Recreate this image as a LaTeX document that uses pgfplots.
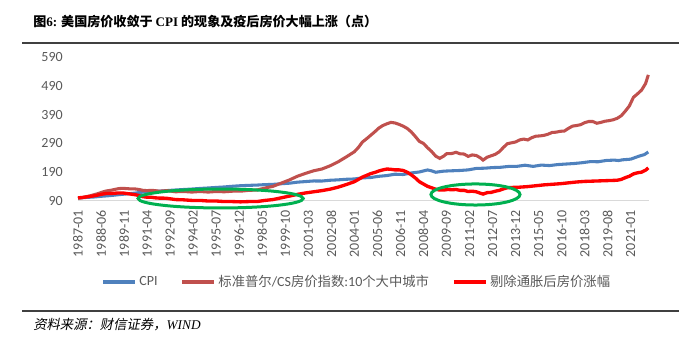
\documentclass[border=0pt]{standalone}
\usepackage{fontspec}
\usepackage{pgfplots}
\pgfplotsset{compat=1.18}
\setmainfont{Carlito}
\newfontfamily\cjk{Noto Sans CJK SC}
\newfontfamily\cjki[FakeSlant=0.2]{Noto Sans CJK SC}
\newfontfamily\serifb{Liberation Serif}
\definecolor{cpiblue}{HTML}{4F81BD}
\definecolor{csred}{HTML}{C0504D}
\definecolor{rred}{HTML}{FF0000}
\definecolor{egreen}{HTML}{00B050}
\definecolor{lblgray}{HTML}{595959}
\definecolor{axgray}{HTML}{D9D9D9}
\definecolor{rulegray}{HTML}{404040}
\begin{document}
\begin{tikzpicture}
\path[use as bounding box] (0,0) rectangle (516pt,256.5pt);
% title
\node[anchor=base west, inner sep=0pt] at (24.75pt,236.5pt)
  {\fontsize{9.8}{12}\selectfont\cjk\bfseries 图{\serifb\bfseries 6:} 美国房价收敛于 {\serifb\bfseries CPI} 的现象及疫后房价大幅上涨（点）};
\draw[rulegray, line width=1.1pt] (16.5pt,224.25pt) -- (509.25pt,224.25pt);
\draw[rulegray, line width=0.9pt] (16.5pt,23.25pt) -- (509.25pt,23.25pt);
\node[anchor=base west, inner sep=0pt] at (24.75pt,9pt)
  {\fontsize{10}{12}\selectfont\cjki 资料来源：财信证券，{\serifb\itshape WIND}};
\begin{axis}[
  at={(58.5pt,105.75pt)}, anchor=south west,
  scale only axis, width=428.25pt, height=108pt,
  xmin=0, xmax=421.5, ymin=90, ymax=590,
  ytick={90,190,290,390,490,590},
  xtick={0,17,...,408},
  xticklabels={1987-01,1988-06,1989-11,1991-04,1992-09,1994-02,1995-07,1996-12,1998-05,1999-10,2001-03,2002-08,2004-01,2005-06,2006-11,2008-04,2009-09,2011-02,2012-07,2013-12,2015-05,2016-10,2018-03,2019-08,2021-01},
  major tick length=0pt,
  axis x line*=bottom, axis y line*=left,
  x axis line style={draw=axgray, line width=0.75pt, -},
  y axis line style={draw=none},
  /pgf/number format/assume math mode=true,
  tick label style={font=\fontsize{10.5}{12}\selectfont, text=lblgray},
  xticklabel style={rotate=90, anchor=east, inner sep=0pt},
  yticklabel style={anchor=east, inner sep=0pt},
  xticklabel shift=6.75pt,
  yticklabel shift=11.25pt,
  clip=false,
  legend columns=3,
  legend style={at={(0.489,-0.5625)}, anchor=center, draw=none, fill=none,
    font=\fontsize{10.5}{12}\selectfont, text=lblgray, inner sep=0pt,
    /tikz/every even column/.append style={column sep=15.3pt}},
  legend image code/.code={\draw[#1] (0pt,0pt) -- (24pt,0pt);},
]
\addplot[cpiblue, line width=2.3pt] coordinates {
(0,100) (6,102.3) (12,104.0) (18,106.6) (24,108.9) (30,111.9) (36,114.6) (42,117.3) (48,121.0) (54,122.5) (60,124.2) (66,126.3) (72,128.2) (78,129.9) (84,131.5) (90,133.5) (96,135.2) (102,137.1) (108,138.8) (114,141.2) (120,143.1) (126,144.3) (132,145.3) (138,146.8) (144,147.8) (150,149.9) (156,151.8) (162,155.4) (168,157.5) (174,159.6) (180,159.3) (186,162.0) (192,163.4) (198,165.4) (204,166.5) (210,170.3) (216,171.5) (222,175.7) (228,178.3) (234,183.0) (240,182.0) (246,187.3) (252,190.8) (258,197.8) (261,194.8) (264,189.8) (270,193.7) (276,194.9) (282,196.0) (288,198.0) (294,203.1) (300,203.9) (306,206.0) (312,207.1) (318,210.1) (324,210.3) (330,214.3) (336,210.2) (342,214.7) (348,213.0) (354,216.4) (360,218.3) (366,220.1) (372,222.9) (378,226.6) (384,226.3) (390,230.8) (396,232.0) (399,230.5) (402,233.0) (408,235.3) (414,245.5) (418,251.0) (421,260.0)
};
\addlegendentry{CPI}
\addplot[csred, line width=2.3pt] coordinates {
(0,100) (3,102) (6,105) (9,108) (12,112) (15,116) (18,121) (21,125) (24,127) (27,130) (30,133) (33,134) (36,133) (39,132) (42,132) (45,130) (48,127) (51,126) (54,127) (57,126) (60,124) (63,125) (66,126) (69,124) (72,122) (78,123) (84,121) (90,123) (96,121) (102,123) (108,122) (114,124) (120,124) (126,127) (132,128) (138,135) (144,141) (150,152) (156,163) (162,176) (168,186) (174,195) (180,201) (186,212) (192,226) (198,243) (204,261) (207,276) (210,295) (213,306) (216,318) (219,330) (222,343) (225,352) (228,358) (231,363) (234,361) (237,356) (240,350) (243,342) (246,330) (249,314) (252,297) (255,290) (258,275) (261,262) (264,246) (267,238) (270,246) (272,254) (276,255) (279,259) (282,254) (285,253) (288,245) (291,250) (294,248) (297,240) (299,232) (302,242) (305,247) (308,252) (311,261) (314,276) (317,289) (320,292) (323,295) (326,302) (329,305) (332,302) (335,310) (338,315) (341,316) (344,318) (347,322) (350,328) (353,329) (356,332) (359,333) (362,342) (365,350) (368,352) (371,355) (374,362) (377,366) (380,366) (383,360) (386,363) (389,367) (392,369) (395,372) (398,377) (401,386) (404,402) (407,420) (410,450) (413,462) (416,475) (419,498) (421,528)
};
\addlegendentry{{\cjk\fontsize{10}{12}\selectfont 标准普尔}/CS{\cjk\fontsize{10}{12}\selectfont 房价指数}:10{\cjk\fontsize{10}{12}\selectfont 个大中城市}}
\addplot[rred, line width=2.5pt] coordinates {
(0,101) (3,102) (6,104) (9,106) (12,108) (15,111) (18,114) (21,116) (24,116) (27,117) (30,118) (33,118) (36,116) (39,114) (42,112) (45,109) (48,105) (51,103) (54,103) (57,101) (60,100) (63,100) (66,99) (69,97) (72,95) (78,94) (84,92) (90,92) (96,90) (102,90) (108,88) (114,88) (120,87) (126,88) (132,88) (138,92) (144,95) (150,101) (156,107) (162,113) (168,118) (174,122) (180,126) (186,131) (192,138) (198,147) (204,157) (207,165) (210,173) (213,179) (216,185) (219,189) (222,194) (225,198) (228,201) (231,200) (234,198) (237,198) (240,196) (243,190) (246,181) (249,170) (252,157) (255,149) (258,141) (261,136) (264,131) (267,128) (270,128) (273,130) (276,129) (279,130) (282,127) (285,127) (288,123) (291,124) (294,122) (297,117) (299,114) (302,119) (305,120) (308,124) (311,127) (314,132) (317,136) (320,137) (326,138) (332,140) (338,143) (344,146) (350,148) (356,150) (362,153) (368,156) (374,158) (380,159) (386,160) (392,161) (398,162) (401,165) (404,171) (407,176) (410,184) (413,188) (416,190) (419,197) (421,205)
};
\addlegendentry{{\cjk\fontsize{10}{12}\selectfont 剔除通胀后房价涨幅}}
\draw[egreen, line width=2.25pt] (axis cs:105.3,98.7) ellipse [x radius=61.9pt, y radius=7.1pt];
\draw[egreen, line width=2.25pt] (axis cs:293.4,112.6) ellipse [x radius=33.4pt, y radius=7.9pt];
\end{axis}
\end{tikzpicture}
\end{document}
